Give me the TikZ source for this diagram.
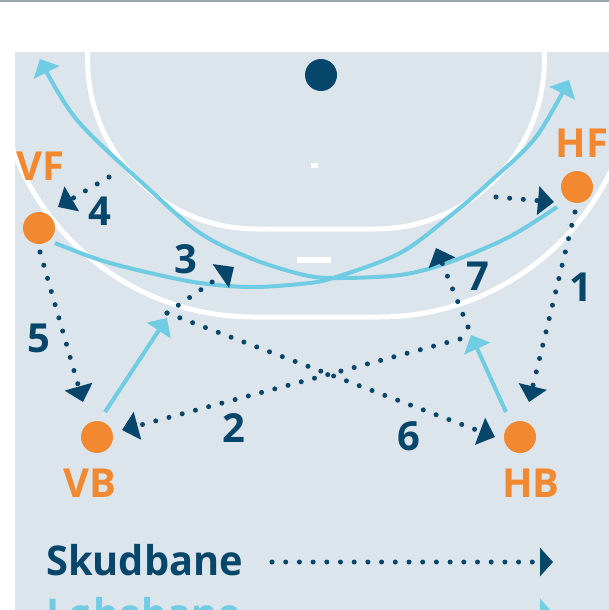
\documentclass[tikz,border=0pt]{standalone}
\usepackage{fontspec}
\setmainfont{Open Sans}
\newfontfamily\legfont{Open Sans}[FakeStretch=0.97]
\usetikzlibrary{arrows.meta}
\definecolor{panel}{RGB}{220,229,235}
\definecolor{navy}{RGB}{6,70,107}
\definecolor{sky}{RGB}{111,204,226}
\definecolor{orng}{RGB}{242,137,48}
\definecolor{topline}{RGB}{154,166,173}
\tikzset{
  shot/.style={navy, line width=5pt, line cap=round, dash pattern=on 0pt off 13.7pt,
    -{Triangle[length=16pt,width=28pt]}},
  run/.style={sky, line width=4pt, -{Triangle[length=15pt,width=28pt]}},
  player/.style={circle, fill=orng, minimum size=32pt, inner sep=0pt},
  plabel/.style={text=orng, font=\bfseries\fontsize{40}{40}\selectfont, inner sep=0pt, anchor=base},
  num/.style={text=navy, font=\bfseries\fontsize{40}{40}\selectfont, inner sep=0pt, anchor=base},
  court/.style={white, line width=5pt},
  legtext/.style={font=\legfont\bfseries\fontsize{41}{41}\selectfont, inner sep=0pt, anchor=base west},
}
\begin{document}
\begin{tikzpicture}[x=1pt,y=-1pt]
\useasboundingbox (0,0) rectangle (609,610);
\clip (0,0) rectangle (609,610);
\fill[white] (0,0) rectangle (609,610);
\fill[topline] (0,0) rectangle (609,2.5);
\fill[panel] (15,52) rectangle (609,640);
% court lines
\begin{scope}
\clip (15,52) rectangle (609,640);
\draw[court] (87.6,20) -- (87.6,60) arc[start angle=180, end angle=90, radius=169]
  -- (375.4,229) arc[start angle=90, end angle=0, radius=169] -- (544.4,20);
\draw[court] (-3,20) -- (-3,60) arc[start angle=180, end angle=90, radius=257]
  -- (379,317) arc[start angle=90, end angle=0, radius=257] -- (636,20);
\end{scope}
\fill[navy] (321,75) circle[radius=16];
\fill[white] (311,163) rectangle (318,168);
\fill[white] (297,257) rectangle (331,263);
% players
\node[player] (VF) at (39,228) {};
\node[player] (HF) at (577,187) {};
\node[player] (VB) at (97,437) {};
\node[player] (HB) at (520,437) {};
\node[plabel] (VFl) at (40,180) {VF};
\node[plabel] (HFl) at (582,157) {HF};
\node[plabel] (VBl) at (90,497) {VB};
\node[plabel] (HBl) at (531,497) {HB};
% run coordinates
\coordinate (hfrun) at (557,207);
\coordinate (tlend) at (40,59);
\coordinate (vfrun) at (55,243);
\coordinate (trend) at (569,80);
\coordinate (vbrun) at (105,412);
\coordinate (vbend) at (167,318);
\coordinate (hbrun) at (506,412);
\coordinate (hbend) at (471,335);
% running lanes
\draw[run] plot[smooth, tension=0.55] coordinates {(hfrun) (509,237) (450,262) (400,275) (333,278) (300,274) (250,258) (200,233) (150,190) (77,120) (tlend)};
\draw[run] plot[smooth, tension=0.55] coordinates {(vfrun) (100,260) (150,273) (200,283) (250,287) (300,284) (333,278) (400,253) (450,216) (492,180) (536,137) (trend)};
\draw[run] (vbrun) -- (vbend);
\draw[run] (hbrun) -- (hbend);
% shot coordinates
\coordinate (s1a) at (575,212); \coordinate (s1b) at (529,402);
\coordinate (s2a) at (460,339); \coordinate (s2b) at (122,430);
\coordinate (s3a) at (167,313); \coordinate (s3b) at (234,267);
\coordinate (s4a) at (109,177); \coordinate (s4b) at (58,207);
\coordinate (s5a) at (40,252);  \coordinate (s5b) at (83,402);
\coordinate (s6b) at (495,437);
\coordinate (s7a) at (468,327); \coordinate (s7b) at (436,248);
\coordinate (s8a) at (496,197); \coordinate (s8b) at (554,202);
\draw[shot] (s1a) -- (s1b);
\draw[shot] (s2a) -- (s2b);
\draw[shot] (s3a) -- (s3b);
\draw[shot] (s4a) -- (s4b);
\draw[shot] (s5a) -- (s5b);
\draw[shot] (s3a) -- (s6b);
\draw[shot] (s7a) -- (s7b);
\draw[shot] (s8a) -- (s8b);
% numbers
\node[num] (n1) at (581,301) {1};
\node[num] (n2) at (234,442) {2};
\node[num] (n3) at (186,273) {3};
\node[num] (n4) at (100,225) {4};
\node[num] (n5) at (39,352) {5};
\node[num] (n6) at (409,450) {6};
\node[num] (n7) at (478,290) {7};
% legend
\node[legtext, text=navy] (lg1) at (46,575) {Skudbane};
\node[legtext, text=sky] (lg2) at (46,628) {Løbebane};
\coordinate (l1a) at (272,562); \coordinate (l1b) at (553,562);
\coordinate (l2a) at (272,613); \coordinate (l2b) at (553,613);
\draw[shot, -{Triangle[length=13pt,width=28pt]}] (l1a) -- (l1b);
\draw[run, -{Triangle[length=13pt,width=28pt]}] (l2a) -- (l2b);
\end{tikzpicture}
\end{document}
